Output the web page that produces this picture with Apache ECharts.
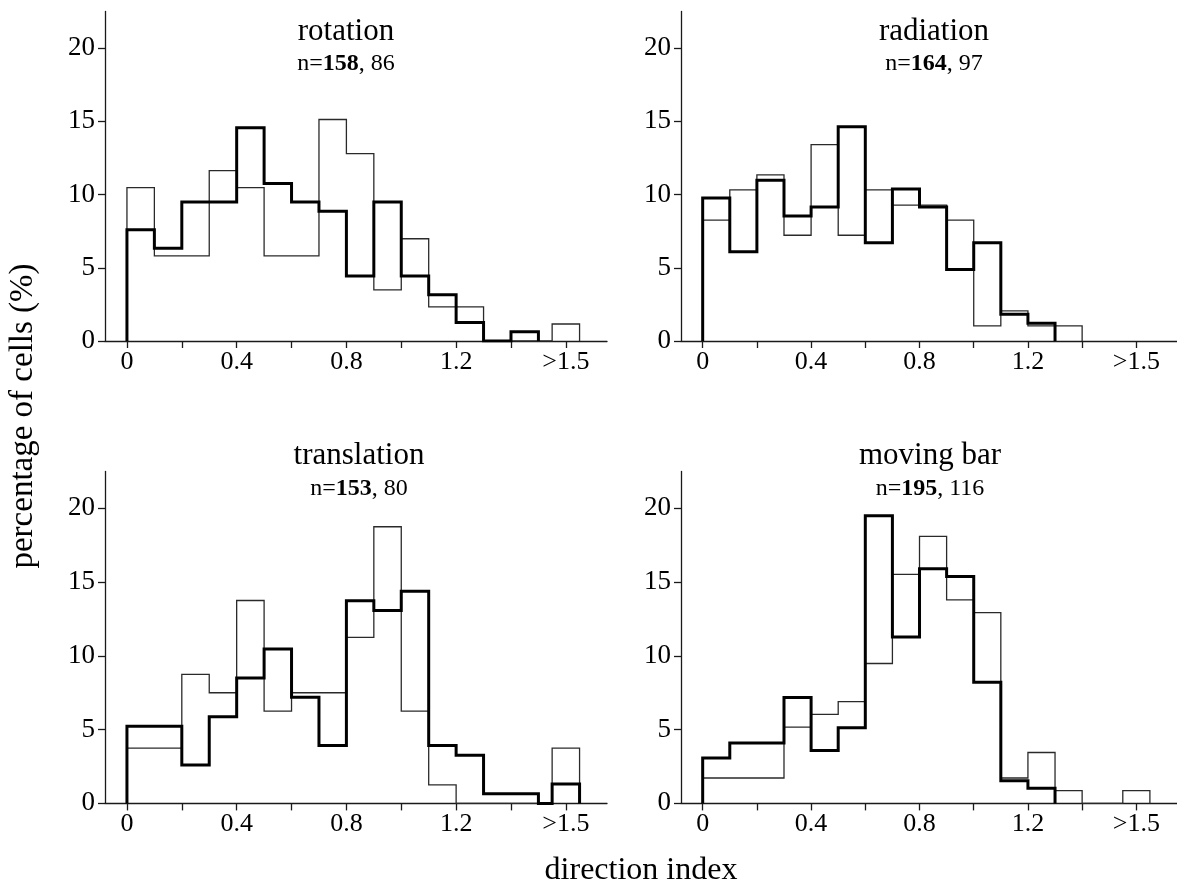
<!DOCTYPE html>
<html>
<head>
<meta charset="utf-8">
<script src="https://cdn.jsdelivr.net/npm/echarts@6/dist/echarts.min.js"></script>
<style>
  html, body { margin: 0; padding: 0; background: #fff; }
  #chart { width: 1177px; height: 886px; }
</style>
</head>
<body>
<div id="chart"></div>
<script>
// left edge of each histogram bin; the last one is the ">1.5" bin
const binStarts = [0, 0.1, 0.2, 0.3, 0.4, 0.5, 0.6, 0.7, 0.8, 0.9, 1.0, 1.1, 1.2, 1.3, 1.4, 1.55];
const binWidth = 0.1;

const xTickValues = [0, 0.2, 0.4, 0.6, 0.8, 1.0, 1.2, 1.4, 1.6];
const xLabelValues = [0, 0.4, 0.8, 1.2, 1.6];
const xLabelTexts = ["0", "0.4", "0.8", "1.2", ">1.5"];
const yTickValues = [0, 5, 10, 15, 20];

const panelTitles = ["rotation", "radiation", "translation", "moving bar"];
const nThick = [158, 164, 153, 195];
const nThin = [86, 97, 80, 116];

// percentage of cells per bin
const rotationThick = [7.59, 6.33, 9.49, 9.49, 14.56, 10.76, 9.49, 8.86, 4.43, 9.49, 4.43, 3.16, 1.27, 0, 0.63, 0];
const rotationThin = [10.47, 5.81, 5.81, 11.63, 10.47, 5.81, 5.81, 15.12, 12.79, 3.49, 6.98, 2.33, 2.33, 0, 0, 1.16];
const radiationThick = [9.76, 6.10, 10.98, 8.54, 9.15, 14.63, 6.71, 10.37, 9.15, 4.88, 6.71, 1.83, 1.22, 0, 0, 0];
const radiationThin = [8.25, 10.31, 11.34, 7.22, 13.40, 7.22, 10.31, 9.28, 9.28, 8.25, 1.03, 2.06, 1.03, 1.03, 0, 0];
const translationThick = [5.23, 5.23, 2.61, 5.88, 8.50, 10.46, 7.19, 3.92, 13.73, 13.07, 14.38, 3.92, 3.27, 0.65, 0.65, 1.31];
const translationThin = [3.75, 3.75, 8.75, 7.50, 13.75, 6.25, 7.50, 7.50, 11.25, 18.75, 6.25, 1.25, 0, 0, 0, 3.75];
const movingBarThick = [3.08, 4.10, 4.10, 7.18, 3.59, 5.13, 19.49, 11.28, 15.90, 15.38, 8.21, 1.54, 1.03, 0, 0, 0];
const movingBarThin = [1.72, 1.72, 1.72, 5.17, 6.03, 6.90, 9.48, 15.52, 18.10, 13.79, 12.93, 1.72, 3.45, 0.86, 0, 0.86];

const thickData = [rotationThick, radiationThick, translationThick, movingBarThick];
const thinData = [rotationThin, radiationThin, translationThin, movingBarThin];

const FONT = '"Liberation Serif", "DejaVu Serif", serif';

// outline of a histogram as a step path (bin edges + values)
function stepPoints(vals) {
  let last = vals.length - 1;
  while (last > 0 && vals[last] === 0) last--;
  const pts = [[binStarts[0], 0]];
  let prevEnd = binStarts[0];
  for (let i = 0; i <= last; i++) {
    const x0 = binStarts[i];
    const x1 = +(x0 + binWidth).toFixed(3);
    if (x0 > prevEnd + 1e-9) {
      pts.push([prevEnd, 0]);
      pts.push([x0, 0]);
    }
    pts.push([x0, vals[i]]);
    pts.push([x1, vals[i]]);
    prevEnd = x1;
  }
  pts.push([prevEnd, 0]);
  return pts;
}

const grids = [
  { left: 105, top: 11.4, width: 502, height: 329.6 },
  { left: 681, top: 11.4, width: 502, height: 329.6 },
  { left: 105, top: 471.4, width: 502, height: 332 },
  { left: 681, top: 471.4, width: 502, height: 332 },
];

const axisColor = "#1a1a1a";

const xAxes = grids.map((g, i) => ({
  gridIndex: i,
  type: "value",
  min: -0.08,
  max: 1.75,
  axisLine: { show: true, onZero: false, lineStyle: { color: axisColor, width: 1.3 } },
  axisTick: { show: true, customValues: xTickValues, length: 7, lineStyle: { color: axisColor, width: 1.3 } },
  axisLabel: {
    customValues: xLabelValues,
    formatter: (v) => xLabelTexts[xLabelValues.findIndex((t) => Math.abs(t - v) < 1e-6)],
    fontFamily: FONT,
    fontSize: 26,
    color: "#000",
    margin: 8,
  },
  splitLine: { show: false },
}));

const yAxes = grids.map((g, i) => ({
  gridIndex: i,
  type: "value",
  min: 0,
  max: 22.5,
  axisLine: { show: true, onZero: false, lineStyle: { color: axisColor, width: 1.3 } },
  axisTick: { show: true, customValues: yTickValues, length: 7, lineStyle: { color: axisColor, width: 1.3 } },
  axisLabel: {
    customValues: yTickValues,
    fontFamily: FONT,
    fontSize: 27,
    color: "#000",
    margin: 10,
  },
  splitLine: { show: false },
}));

const series = [];
for (let i = 0; i < 4; i++) {
  series.push({
    name: panelTitles[i] + " thin",
    type: "line",
    xAxisIndex: i,
    yAxisIndex: i,
    data: stepPoints(thinData[i]),
    symbol: "none",
    lineStyle: { color: "#2a2a2a", width: 1.3, join: "miter" },
    z: 2,
  });
  series.push({
    name: panelTitles[i] + " thick",
    type: "line",
    xAxisIndex: i,
    yAxisIndex: i,
    data: stepPoints(thickData[i]),
    symbol: "none",
    lineStyle: { color: "#000", width: 3, join: "miter" },
    z: 3,
  });
}

const titlePos = [
  { x: 346, y1: 32, y2: 64 },
  { x: 934, y1: 32, y2: 64 },
  { x: 359, y1: 456, y2: 489 },
  { x: 930, y1: 456, y2: 489 },
];

const graphics = [];
titlePos.forEach((p, i) => {
  graphics.push({
    type: "text",
    x: p.x,
    y: p.y1,
    style: {
      text: panelTitles[i],
      fill: "#000",
      fontFamily: FONT,
      fontSize: 31,
      align: "center",
      verticalAlign: "middle",
      textAlign: "center",
      textVerticalAlign: "middle",
    },
  });
  graphics.push({
    type: "text",
    x: p.x,
    y: p.y2,
    style: {
      text: "{a|n=}{b|" + nThick[i] + "}{a|, " + nThin[i] + "}",
      fill: "#000",
      fontFamily: FONT,
      fontSize: 24,
      align: "center",
      verticalAlign: "middle",
      textAlign: "center",
      textVerticalAlign: "middle",
      rich: {
        a: { fontFamily: FONT, fontSize: 24, fill: "#000", color: "#000" },
        b: { fontFamily: FONT, fontSize: 24, fontWeight: "bold", fill: "#000", color: "#000" },
      },
    },
  });
});
graphics.push({
  type: "text",
  x: 23,
  y: 416,
  rotation: Math.PI / 2,
  style: {
    text: "percentage of cells (%)",
    fill: "#000",
    fontFamily: FONT,
    fontSize: 33,
    align: "center",
    verticalAlign: "middle",
    textAlign: "center",
    textVerticalAlign: "middle",
  },
});
graphics.push({
  type: "text",
  x: 641,
  y: 871,
  style: {
    text: "direction index",
    fill: "#000",
    fontFamily: FONT,
    fontSize: 32,
    align: "center",
    verticalAlign: "middle",
    textAlign: "center",
    textVerticalAlign: "middle",
  },
});

const chart = echarts.init(document.getElementById("chart"));
chart.setOption({
  animation: false,
  backgroundColor: "#fff",
  grid: grids,
  xAxis: xAxes,
  yAxis: yAxes,
  series: series,
  graphic: graphics,
});
</script>
</body>
</html>
